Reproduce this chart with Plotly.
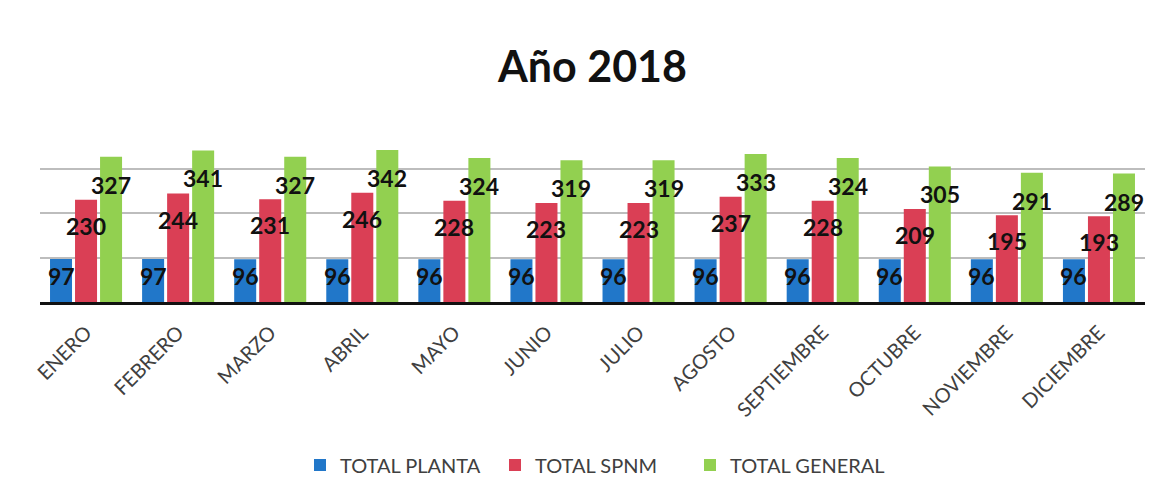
import plotly.graph_objects as go

months = ["ENERO", "FEBRERO", "MARZO", "ABRIL", "MAYO", "JUNIO", "JULIO",
          "AGOSTO", "SEPTIEMBRE", "OCTUBRE", "NOVIEMBRE", "DICIEMBRE"]
total_planta = [97, 97, 96, 96, 96, 96, 96, 96, 96, 96, 96, 96]
total_spnm = [230, 244, 231, 246, 228, 223, 223, 237, 228, 209, 195, 193]
total_general = [327, 341, 327, 342, 324, 319, 319, 333, 324, 305, 291, 289]

series = [
    ("TOTAL PLANTA", total_planta, "#2177c9", -25, -17),
    ("TOTAL SPNM", total_spnm, "#da3f55", 0, -26),
    ("TOTAL GENERAL", total_general, "#92d050", 25, -28),
]

FONT = "Lato, 'Open Sans', sans-serif"

# page body has an 8px margin; figure is sized/positioned to compensate
OFF = 8
W, H = 1167 - OFF, 494 - OFF
L, R, T, B = 40 - OFF, 22, 142 - OFF, 192
pw, ph = W - L - R, H - T - B


def px_y(p):
    """reference-page pixel row -> paper y coordinate"""
    return (H - B - (p - OFF)) / ph


fig = go.Figure()
annotations = []
for name, vals, color, xs, ys in series:
    fig.add_trace(go.Bar(
        x=months, y=vals, name=name,
        marker=dict(color=color, line=dict(width=0)),
        hoverinfo="x+y+name",
    ))
    for m, v in zip(months, vals):
        annotations.append(dict(
            x=m, y=v, xref="x", yref="y", text=f"<b>{v}</b>",
            showarrow=False, xshift=xs, yshift=ys,
            font=dict(family=FONT, size=23, color="#111111"),
        ))

fig.update_layout(
    width=W, height=H,
    margin=dict(l=L, r=R, t=T, b=B, autoexpand=False),
    paper_bgcolor="white", plot_bgcolor="rgba(0,0,0,0)",
    barmode="group", bargap=0.185, bargroupgap=0.12,
    title=dict(text="<b>Año 2018</b>", x=0.5, xref="paper", xanchor="center",
               y=1 - (67 - OFF) / H, yanchor="middle",
               font=dict(family=FONT, size=43, color="#111111")),
    font=dict(family=FONT, color="#404040"),
    showlegend=True,
    legend=dict(orientation="h", x=0.5, xanchor="center",
                y=px_y(465), yanchor="middle",
                entrywidth=150, entrywidthmode="pixels",
                font=dict(family=FONT, size=20, color="#404040"),
                traceorder="normal", bgcolor="rgba(0,0,0,0)"),
    annotations=annotations,
)
fig.update_xaxes(
    tickangle=-45, tickfont=dict(family=FONT, size=20, color="#404040"),
    showline=True, linecolor="#111111", linewidth=3,
    ticks="outside", ticklen=8, tickcolor="rgba(0,0,0,0)",
    showgrid=False, range=[-0.5, 11.5],
)
fig.update_yaxes(
    range=[0, 360], tickvals=[100, 200, 300], showticklabels=False,
    showgrid=True, gridcolor="#bdbdbd", gridwidth=1.5,
    zeroline=False, showline=False, ticks="",
)

fig.write_html("out.html")
